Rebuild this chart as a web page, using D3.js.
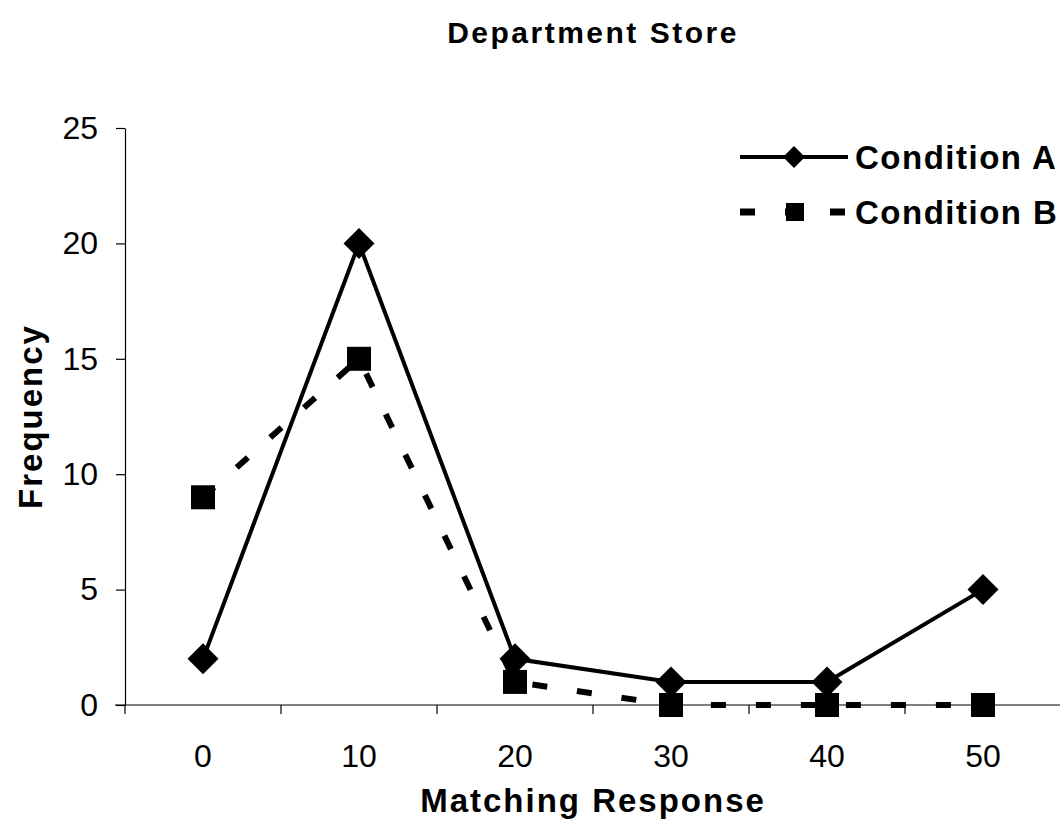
<!DOCTYPE html>
<html>
<head>
<meta charset="utf-8">
<script src="https://cdn.jsdelivr.net/npm/d3@7"></script>
<style>
  body { margin: 0; background: #fff; }
  svg { display: block; font-family: Arial, "Liberation Sans", sans-serif; }
</style>
</head>
<body>
<div id="chart"></div>
<script>
// chart data
const categories = ["0", "10", "20", "30", "40", "50"];
const conditionA = [2, 20, 2, 1, 1, 5];
const conditionB = [9, 15, 1, 0, 0, 0];
const yTicks = [0, 5, 10, 15, 20, 25];
const seriesNames = ["Condition A", "Condition B"];

const width = 1060, height = 837;
const margin = { top: 128, left: 125, bottom: 132 };
const plotRight = 1061;

const svg = d3.select("#chart").append("svg")
  .attr("width", width)
  .attr("height", height);

const x = d3.scaleBand()
  .domain(categories)
  .range([margin.left, plotRight]);

const y = d3.scaleLinear()
  .domain([0, 25])
  .range([height - margin.bottom, margin.top]);

const cx = (d, i) => x(categories[i]) + x.bandwidth() / 2;

// y axis
const yAxis = svg.append("g")
  .attr("transform", `translate(${margin.left},0)`)
  .call(d3.axisLeft(y).tickValues(yTicks).tickSize(9).tickPadding(18).tickSizeOuter(0));
yAxis.selectAll("text").attr("font-size", 32).attr("fill", "#000").attr("font-family", null);
yAxis.selectAll("line,path").attr("stroke", "#000").attr("stroke-width", 1.2);

// x axis: ticks on band boundaries
const xAxis = svg.append("g")
  .attr("transform", `translate(0,${y(0)})`);
xAxis.append("line")
  .attr("x1", margin.left - 10).attr("x2", plotRight)
  .attr("stroke", "#000").attr("stroke-width", 1.2);
xAxis.selectAll(".tick")
  .data(categories)
  .enter().append("line")
  .attr("x1", d => x(d)).attr("x2", d => x(d))
  .attr("y1", 0).attr("y2", 9)
  .attr("stroke", "#000").attr("stroke-width", 1.2);
xAxis.selectAll(".lbl")
  .data(categories)
  .enter().append("text")
  .attr("x", d => x(d) + x.bandwidth() / 2)
  .attr("y", 62)
  .attr("text-anchor", "middle")
  .attr("font-size", 32)
  .text(d => d);

// lines
const line = d3.line().x(cx).y(d => y(d));

svg.append("path")
  .datum(conditionA)
  .attr("d", line)
  .attr("fill", "none")
  .attr("stroke", "#000")
  .attr("stroke-width", 4);

svg.append("path")
  .datum(conditionB)
  .attr("d", line)
  .attr("fill", "none")
  .attr("stroke", "#000")
  .attr("stroke-width", 6)
  .attr("stroke-dasharray", "15,30");

// markers
const diamond = d3.symbol().type(d3.symbolSquare).size(480);
svg.selectAll(".markA")
  .data(conditionA)
  .enter().append("path")
  .attr("d", diamond)
  .attr("transform", (d, i) => `translate(${cx(d, i)},${y(d)}) rotate(45)`)
  .attr("fill", "#000");

svg.selectAll(".markB")
  .data(conditionB)
  .enter().append("rect")
  .attr("x", (d, i) => cx(d, i) - 12)
  .attr("y", d => y(d) - 12)
  .attr("width", 24).attr("height", 24)
  .attr("fill", "#000");

// titles
svg.append("text")
  .attr("x", (margin.left + plotRight) / 2)
  .attr("y", 43)
  .attr("text-anchor", "middle")
  .attr("font-size", 30)
  .attr("font-weight", "bold")
  .attr("letter-spacing", 2.5)
  .text("Department Store");

svg.append("text")
  .attr("x", (margin.left + plotRight) / 2)
  .attr("y", 812)
  .attr("text-anchor", "middle")
  .attr("font-size", 33)
  .attr("font-weight", "bold")
  .attr("letter-spacing", 2)
  .text("Matching Response");

svg.append("text")
  .attr("transform", `translate(42,${(y(0) + y(25)) / 2}) rotate(-90)`)
  .attr("text-anchor", "middle")
  .attr("font-size", 33)
  .attr("font-weight", "bold")
  .attr("letter-spacing", 2)
  .text("Frequency");

// legend
const legend = svg.append("g");
const legendRows = [
  { name: seriesNames[0], y: 157, dash: null, w: 4 },
  { name: seriesNames[1], y: 212, dash: "15,30", w: 7 }
];
legendRows.forEach((r, i) => {
  legend.append("line")
    .attr("x1", 740).attr("x2", 848)
    .attr("y1", r.y).attr("y2", r.y)
    .attr("stroke", "#000")
    .attr("stroke-width", r.w)
    .attr("stroke-dasharray", r.dash);
  if (i === 0) {
    legend.append("path")
      .attr("d", d3.symbol().type(d3.symbolSquare).size(240))
      .attr("transform", `translate(794,${r.y}) rotate(45)`)
      .attr("fill", "#000");
  } else {
    legend.append("rect")
      .attr("x", 786).attr("y", r.y - 9)
      .attr("width", 18).attr("height", 18)
      .attr("fill", "#000");
  }
  legend.append("text")
    .attr("x", 855).attr("y", r.y + 12)
    .attr("font-size", 33)
    .attr("font-weight", "bold")
    .attr("letter-spacing", 1.5)
    .text(r.name);
});
</script>
</body>
</html>
